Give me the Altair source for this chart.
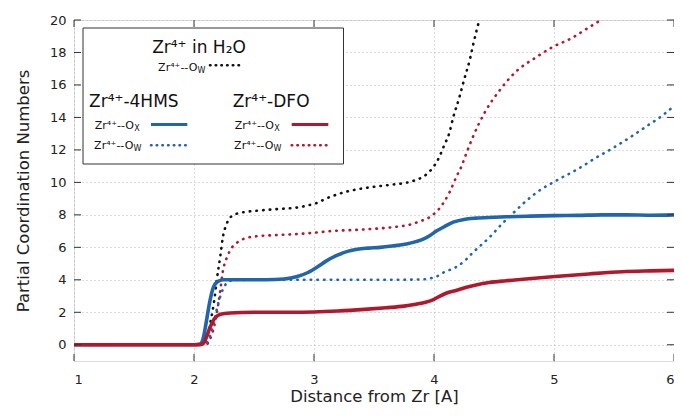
import altair as alt
import pandas as pd

# ---------------- data ----------------
blue_ox_x = [1.0, 2.0, 2.05, 2.08, 2.1, 2.13, 2.16, 2.2, 2.25, 2.4, 2.6, 2.75, 2.86, 2.95, 3.03, 3.1, 3.19,
             3.28, 3.36, 3.45, 3.55, 3.65, 3.77, 3.85, 3.91, 3.97, 4.02, 4.08, 4.16, 4.25, 4.35, 4.5, 4.6,
             4.8, 5.0, 5.2, 5.4, 5.6, 5.8, 6.0]
blue_ox_y = [0, 0, 0.05, 0.5, 1.3, 2.6, 3.5, 3.9, 4.0, 4.0, 4.0, 4.05, 4.2, 4.45, 4.8, 5.15, 5.5,
             5.75, 5.88, 5.95, 6.0, 6.08, 6.2, 6.35, 6.5, 6.75, 7.0, 7.25, 7.55, 7.72, 7.8, 7.85, 7.88,
             7.92, 7.95, 7.97, 8.0, 8.0, 7.98, 8.0]

red_ox_x = [1.0, 2.05, 2.08, 2.1, 2.13, 2.17, 2.22, 2.3, 2.5, 2.8, 3.0, 3.2, 3.42, 3.6, 3.75, 3.85, 3.93,
            4.0, 4.05, 4.1, 4.19, 4.27, 4.35, 4.46, 4.6, 4.74, 5.01, 5.29, 5.57, 5.8, 6.0]
red_ox_y = [0, 0, 0.1, 0.4, 1.0, 1.6, 1.88, 1.96, 2.0, 2.0, 2.02, 2.08, 2.18, 2.28, 2.38, 2.5, 2.62,
            2.8, 3.0, 3.17, 3.36, 3.54, 3.68, 3.83, 3.94, 4.03, 4.2, 4.36, 4.5, 4.55, 4.58]

blue_ow_x = [1.0, 2.08, 2.12, 2.16, 2.2, 2.24, 2.28, 2.33, 2.5, 3.0, 3.5, 3.9, 3.96, 4.02, 4.08, 4.19,
             4.26, 4.32, 4.46, 4.585, 4.676, 4.764, 4.907, 5.012, 5.178, 5.37, 5.51, 5.65,
             5.78, 5.9, 6.0]
blue_ow_y = [0, 0, 0.3, 1.2, 2.5, 3.4, 3.85, 3.98, 4.0, 4.0, 4.0, 4.02, 4.08, 4.2, 4.45, 4.81,
             5.2, 5.65, 6.6, 7.58, 8.22, 8.83, 9.64, 10.08, 10.74, 11.6, 12.2, 12.85,
             13.5, 14.1, 14.7]

red_ow_x = [1.0, 2.1, 2.13, 2.17, 2.2, 2.22, 2.24, 2.27, 2.3, 2.37, 2.45, 2.55, 2.7, 2.86, 3.0, 3.14,
            3.41, 3.69, 3.8, 3.88, 3.95, 3.99, 4.04, 4.08, 4.13, 4.19, 4.23, 4.26, 4.33, 4.43, 4.54,
            4.68, 4.85, 4.98, 5.15, 5.26, 5.36, 5.45, 5.55]
red_ow_y = [0, 0, 0.3, 1.2, 2.4, 3.4, 4.5, 5.3, 5.8, 6.35, 6.6, 6.7, 6.76, 6.82, 6.9, 7.0,
            7.1, 7.27, 7.4, 7.6, 7.8, 8.0, 8.35, 8.75, 9.4, 10.4, 11.0, 11.6, 12.9, 14.4, 15.6,
            16.8, 17.7, 18.3, 18.9, 19.4, 19.86, 20.3, 21.0]

black_ow_x = [1.0, 2.08, 2.1, 2.14, 2.17, 2.19, 2.22, 2.24, 2.27, 2.31, 2.36, 2.42, 2.55, 2.7, 2.86,
              2.93, 3.03, 3.1, 3.19, 3.28, 3.36, 3.45, 3.55, 3.65, 3.77, 3.85, 3.91, 3.96, 4.0, 4.04,
              4.08, 4.13, 4.16, 4.21, 4.25, 4.3, 4.33, 4.36, 4.4, 4.45]
black_ow_y = [0, 0, 0.3, 1.5, 2.8, 4.0, 5.5, 6.6, 7.4, 7.9, 8.08, 8.17, 8.27, 8.36, 8.45,
              8.55, 8.75, 9.0, 9.25, 9.45, 9.57, 9.68, 9.77, 9.86, 9.98, 10.15, 10.35, 10.65, 11.0, 11.5,
              12.2, 13.1, 14.0, 15.2, 16.3, 17.6, 18.6, 19.5, 20.6, 22.0]

x_ticks = [1, 2, 3, 4, 5, 6]
y_ticks = [0, 2, 4, 6, 8, 10, 12, 14, 16, 18, 20]

x_title = "Distance from Zr [A]"
y_title = "Partial Coordination Numbers"

legend_title = "Zr\u2074\u207a in H\u2082O"
group_hms = "Zr\u2074\u207a-4HMS"
group_dfo = "Zr\u2074\u207a-DFO"
pair_main = "Zr\u2074\u207a--O"
sub_w = "W"
sub_x = "X"

BLUE = "#2166ac"
RED = "#b2182b"
BLACK = "#111111"
FONT = "DejaVu Sans"

W, H = 600, 341

xscale = alt.Scale(domain=[1, 6], nice=False, zero=False)
yscale = alt.Scale(domain=[-1, 20], nice=False, zero=False)

x_axis = alt.Axis(values=x_ticks, format="d", title=x_title, grid=True, ticks=False, domain=False,
                  labelFontSize=13, titleFontSize=16.5, titleFontWeight="normal", labelPadding=12,
                  titlePadding=2, gridDash=[1, 3], gridColor="#b5b5b5", labelColor="#222",
                  titleColor="#222", labelFont=FONT, titleFont=FONT)
y_axis = alt.Axis(values=y_ticks, format="d", title=y_title, grid=True, ticks=False, domain=False,
                  labelFontSize=13, titleFontSize=16.5, titleFontWeight="normal", labelPadding=8,
                  titlePadding=18, gridDash=[1, 3], gridColor="#b5b5b5", labelColor="#222",
                  titleColor="#222", labelFont=FONT, titleFont=FONT)


def X(field):
    return alt.X(field, type="quantitative", scale=xscale, axis=x_axis)


def Y(field):
    return alt.Y(field, type="quantitative", scale=yscale, axis=y_axis)


def curve(xs, ys, color, dotted):
    df = pd.DataFrame({"r": xs, "n": ys})
    if dotted:
        kw = dict(color=color, strokeWidth=2.6, strokeDash=[0.5, 6.2], strokeCap="round",
                  interpolate="monotone", clip=True)
    else:
        kw = dict(color=color, strokeWidth=3.6, interpolate="monotone", clip=True)
    return alt.Chart(df).mark_line(**kw).encode(x=X("r"), y=Y("n"))


one = alt.Data(values=[{}])


def text(label, x, y, size, align="left"):
    return alt.Chart(one).mark_text(text=label, font=FONT, fontSize=size, align=align,
                                    baseline="alphabetic", color="#111").encode(
        x=alt.value(x), y=alt.value(y))


def seg(x1, x2, y, color, dotted):
    kw = dict(color=color, strokeWidth=2.6 if dotted else 3.2)
    if dotted:
        kw.update(strokeDash=[0.5, 5.2], strokeCap="round")
    return alt.Chart(one).mark_rule(**kw).encode(x=alt.value(x1), x2=alt.value(x2), y=alt.value(y))


layers = [
    curve(black_ow_x, black_ow_y, BLACK, True),
    curve(red_ow_x, red_ow_y, RED, True),
    curve(blue_ow_x, blue_ow_y, BLUE, True),
    curve(blue_ox_x, blue_ox_y, BLUE, False),
    curve(red_ox_x, red_ox_y, RED, False),
]

# inward ticks on all four sides
xt = pd.DataFrame({"v": x_ticks})
yt = pd.DataFrame({"v": y_ticks})
layers += [
    alt.Chart(xt).mark_rule(color="#333", strokeWidth=1).encode(x=X("v"), y=alt.value(H), y2=alt.value(H - 7)),
    alt.Chart(xt).mark_rule(color="#333", strokeWidth=1).encode(x=X("v"), y=alt.value(0), y2=alt.value(7)),
    alt.Chart(yt).mark_rule(color="#333", strokeWidth=1).encode(y=Y("v"), x=alt.value(0), x2=alt.value(7)),
    alt.Chart(yt).mark_rule(color="#333", strokeWidth=1).encode(y=Y("v"), x=alt.value(W), x2=alt.value(W - 7)),
]

# legend box
layers.append(
    alt.Chart(one).mark_rect(fill="white", stroke="#333", strokeWidth=1).encode(
        x=alt.value(9), x2=alt.value(269.5), y=alt.value(8), y2=alt.value(144))
)
layers += [
    text(legend_title, 125, 32.5, 17, "center"),
    text(pair_main, 123.3, 50.5, 11, "right"),
    text(sub_w, 123.5, 53, 8),
    seg(136, 170, 45.2, BLACK, True),
    text(group_hms, 15, 87, 17),
    text(group_dfo, 158.7, 87, 17),
    text(pair_main, 60, 108.5, 11, "right"),
    text(sub_x, 60.2, 111, 8),
    seg(77, 113.3, 104.5, BLUE, False),
    text(pair_main, 59.3, 128.5, 11, "right"),
    text(sub_w, 59.5, 131, 8),
    seg(77, 113.3, 125.2, BLUE, True),
    text(pair_main, 200, 108.5, 11, "right"),
    text(sub_x, 200.2, 111, 8),
    seg(217.7, 254.3, 104.5, RED, False),
    text(pair_main, 199.3, 128.5, 11, "right"),
    text(sub_w, 199.5, 131, 8),
    seg(217.7, 254.3, 125.2, RED, True),
]

chart = alt.layer(*layers).properties(
    width=W, height=H,
    autosize=alt.AutoSizeParams(type="none"),
    padding={"left": 66, "top": 12, "right": 0, "bottom": 45},
).configure_view(stroke="#333", strokeWidth=1).configure(background="white")

chart.save("out.html", embed_options={"renderer": "svg", "actions": False})
